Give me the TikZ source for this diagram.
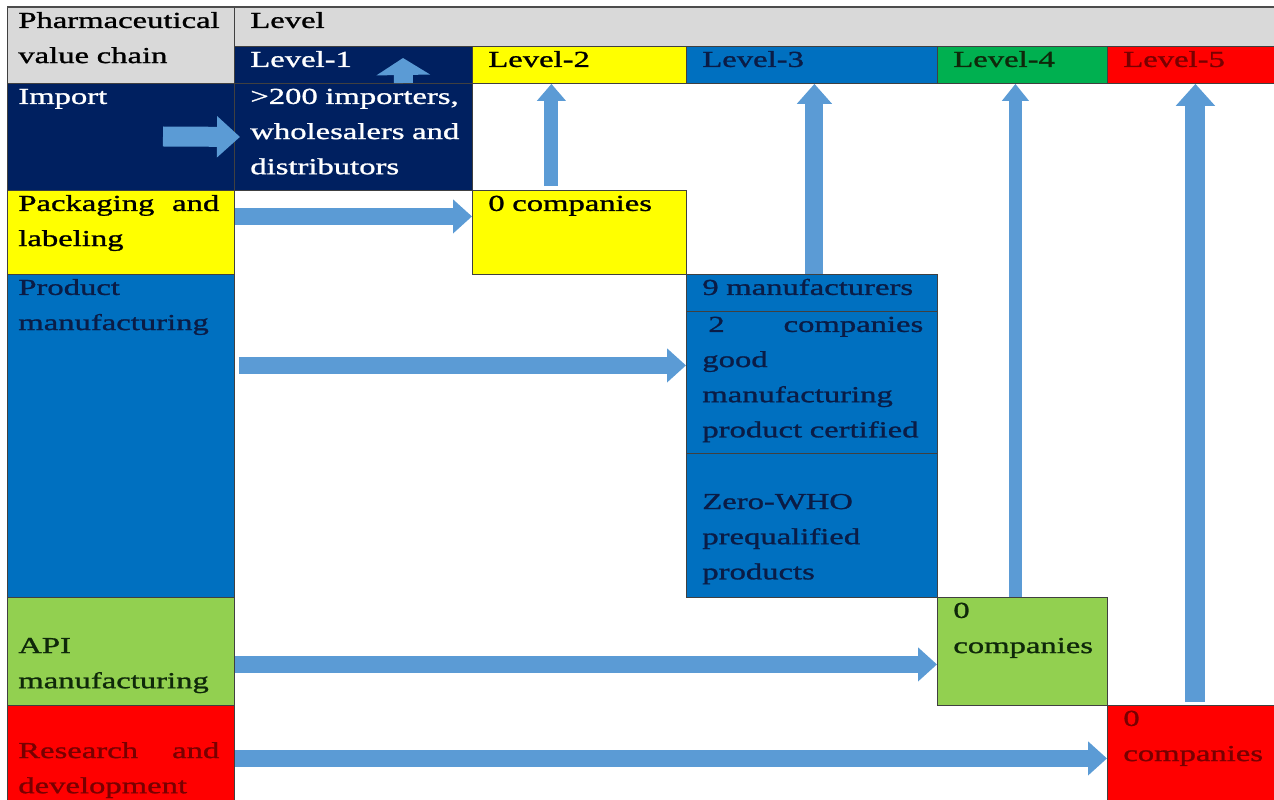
\documentclass[tikz,border=0pt]{standalone}
\usepackage{fontspec}
\setmainfont{Liberation Serif}[FakeStretch=1.43, FakeBold=1.2]
\usetikzlibrary{positioning,arrows.meta}

\definecolor{hdrgray}{RGB}{217,217,217}
\definecolor{navy}{RGB}{0,32,96}
\definecolor{lvblue}{RGB}{0,112,192}
\definecolor{lvgreen}{RGB}{0,176,80}
\definecolor{apigreen}{RGB}{146,208,80}
\definecolor{lvred}{RGB}{255,0,0}
\definecolor{lvyellow}{RGB}{255,255,0}
\definecolor{arrowblue}{RGB}{91,155,213}
\definecolor{darkred}{RGB}{120,0,0}
\definecolor{darknavy}{RGB}{10,28,70}
\definecolor{darkgreen}{RGB}{15,40,10}

\newcommand{\cellfont}{\fontsize{13}{20}\selectfont}
\newcommand{\topstrut}{\rule{0pt}{10pt}}
\setlength{\parindent}{0pt}

\tikzset{
  cell/.style={draw=black!75, line width=0.5pt, anchor=north west, inner sep=0pt},
  txt/.style={inner sep=0pt, align=left, font=\cellfont, execute at begin node=\topstrut},
  blockarrow/.style={draw=arrowblue, line width=0.33cm, -{Triangle[width=0.66cm,length=0.38cm]}},
}

\begin{document}
\begin{tikzpicture}[x=0.02cm, y=-0.02cm]
  \useasboundingbox (0,0) rectangle (1274,800);

  % header rows
  \node[cell, fill=hdrgray, minimum width=4.54cm, minimum height=1.52cm] (chain) at (7,7) {};
  \node[cell, fill=hdrgray, minimum width=20.8cm, minimum height=0.78cm] (level) at (234,7) {};
  \node[cell, fill=navy, minimum width=4.76cm, minimum height=0.74cm] (lv1) at (234,46) {};
  \node[cell, fill=lvyellow, minimum width=4.28cm, minimum height=0.74cm] (lv2) at (472,46) {};
  \node[cell, fill=lvblue, minimum width=5.02cm, minimum height=0.74cm] (lv3) at (686,46) {};
  \node[cell, fill=lvgreen, minimum width=3.40cm, minimum height=0.74cm] (lv4) at (937,46) {};
  \node[cell, fill=lvred, minimum width=3.34cm, minimum height=0.74cm] (lv5) at (1107,46) {};
  \draw[black!70, line width=1.2pt] (chain.north west) -- (level.north east);

  % value chain rows
  \node[cell, fill=navy, minimum width=4.54cm, minimum height=2.14cm] (imp) at (7,83) {};
  \node[cell, fill=navy, minimum width=4.76cm, minimum height=2.14cm] (imp1) at (234,83) {};
  \node[cell, fill=lvyellow, minimum width=4.54cm, minimum height=1.68cm] (pack) at (7,190) {};
  \node[cell, fill=lvyellow, minimum width=4.28cm, minimum height=1.68cm] (pack2) at (472,190) {};
  \node[cell, fill=lvblue, minimum width=4.54cm, minimum height=6.46cm] (prod) at (7,274) {};
  \node[cell, fill=lvblue, minimum width=5.02cm, minimum height=0.74cm] (prod3a) at (686,274) {};
  \node[cell, fill=lvblue, minimum width=5.02cm, minimum height=2.84cm] (prod3b) at (686,311) {};
  \node[cell, fill=lvblue, minimum width=5.02cm, minimum height=2.88cm] (prod3c) at (686,453) {};
  \node[cell, fill=apigreen, minimum width=4.54cm, minimum height=2.16cm] (api) at (7,597) {};
  \node[cell, fill=apigreen, minimum width=3.40cm, minimum height=2.16cm] (api4) at (937,597) {};
  \node[cell, fill=lvred, minimum width=4.54cm, minimum height=1.90cm] (rd) at (7,705) {};
  \node[cell, fill=lvred, minimum width=3.34cm, minimum height=1.90cm] (rd5) at (1107,705) {};

  % texts
  \node[txt, text width=4.3cm, below right=0.06cm and 0.22cm of chain.north west] (chaintxt) {Pharmaceutical\\value chain};
  \node[txt, text width=4.4cm, below right=0.06cm and 0.32cm of level.north west] (leveltxt) {Level};
  \node[txt, text width=4.4cm, text=white, below right=0.06cm and 0.32cm of lv1.north west] (lv1txt) {Level-1};
  \node[txt, text width=3.9cm, below right=0.06cm and 0.32cm of lv2.north west] (lv2txt) {Level-2};
  \node[txt, text width=4.6cm, text=darknavy, below right=0.06cm and 0.32cm of lv3.north west] (lv3txt) {Level-3};
  \node[txt, text width=3.0cm, text=darkgreen, below right=0.06cm and 0.32cm of lv4.north west] (lv4txt) {Level-4};
  \node[txt, text width=2.9cm, text=darkred, below right=0.06cm and 0.32cm of lv5.north west] (lv5txt) {Level-5};

  \node[txt, text width=4.3cm, text=white, below right=0.06cm and 0.22cm of imp.north west] (imptxt) {Import};
  \node[txt, text width=4.4cm, text=white, below right=0.06cm and 0.32cm of imp1.north west] (imp1txt) {>200 importers,\\wholesalers and\\distributors};
  \node[txt, text width=4.02cm, below right=0.06cm and 0.22cm of pack.north west] (packtxt) {Packaging\hfill and\\labeling};
  \node[txt, text width=3.9cm, below right=0.06cm and 0.32cm of pack2.north west] (pack2txt) {0 companies};
  \node[txt, text width=4.3cm, text=darknavy, below right=0.06cm and 0.22cm of prod.north west] (prodtxt) {Product\\manufacturing};
  \node[txt, text width=4.6cm, text=darknavy, below right=0.06cm and 0.32cm of prod3a.north west] (prod3atxt) {9 manufacturers};
  \node[txt, text width=4.42cm, text=darknavy, below right=0.06cm and 0.32cm of prod3b.north west] (prod3btxt) {\hspace{0.12cm}2\hfill companies\\good\\manufacturing\\product certified};
  \node[txt, text width=4.6cm, text=darknavy, below right=0.06cm and 0.32cm of prod3c.north west] (prod3ctxt) {~\\Zero-WHO\\prequalified\\products};
  \node[txt, text width=4.3cm, text=darkgreen, below right=0.06cm and 0.22cm of api.north west] (apitxt) {~\\API\\manufacturing};
  \node[txt, text width=3.0cm, text=darkgreen, below right=0.06cm and 0.32cm of api4.north west] (api4txt) {0\\companies};
  \node[txt, text width=4.02cm, text=darkred, below right=0.0cm and 0.22cm of rd.north west] (rdtxt) {~\\Research\hfill and\\development};
  \node[txt, text width=2.9cm, text=darkred, below right=0.06cm and 0.32cm of rd5.north west] (rd5txt) {0\\companies};

  % free ends of the block arrows
  \coordinate (impin) at (163,136.5);
  \coordinate (lv1tip) at (403,58);
  \coordinate (prodout) at ([xshift=0.08cm, yshift=1.41cm]prod.east);

  % horizontal arrows
  \draw[blockarrow, line width=0.4cm, -{Triangle[width=0.8cm,length=0.46cm]}] (impin) -- ([xshift=0.12cm]imp1.west);
  \draw[blockarrow] ([yshift=0.32cm]pack.east) -- ([yshift=0.32cm]pack2.west);
  \draw[blockarrow] (prodout) -- (prodout -| prod3b.west);
  \draw[blockarrow] ([yshift=-0.26cm]api.east) -- ([yshift=-0.26cm]api4.west);
  \draw[blockarrow] ([yshift=-0.11cm]rd.east) -- ([yshift=-0.11cm]rd5.west);

  % vertical arrows up to the levels
  \draw[blockarrow, line width=0.38cm, -{Triangle[width=1.06cm,length=0.34cm]}] ([xshift=1cm]imp1.north) -- (lv1tip);
  \draw[blockarrow, line width=0.28cm, -{Triangle[width=0.56cm,length=0.34cm]}] ([xshift=-0.56cm, yshift=0.08cm]pack2.north) -- ([xshift=-0.56cm]lv2.south);
  \draw[blockarrow, line width=0.36cm, -{Triangle[width=0.68cm,length=0.4cm]}] ([xshift=0.05cm]prod3a.north) -- ([xshift=0.05cm]lv3.south);
  \draw[blockarrow, line width=0.26cm, -{Triangle[width=0.52cm,length=0.34cm]}] ([xshift=-0.14cm]api4.north) -- ([xshift=-0.14cm]lv4.south);
  \draw[blockarrow, line width=0.4cm, -{Triangle[width=0.76cm,length=0.44cm]}] ([xshift=0.09cm, yshift=0.06cm]rd5.north) -- ([xshift=0.09cm]lv5.south);
\end{tikzpicture}
\end{document}
